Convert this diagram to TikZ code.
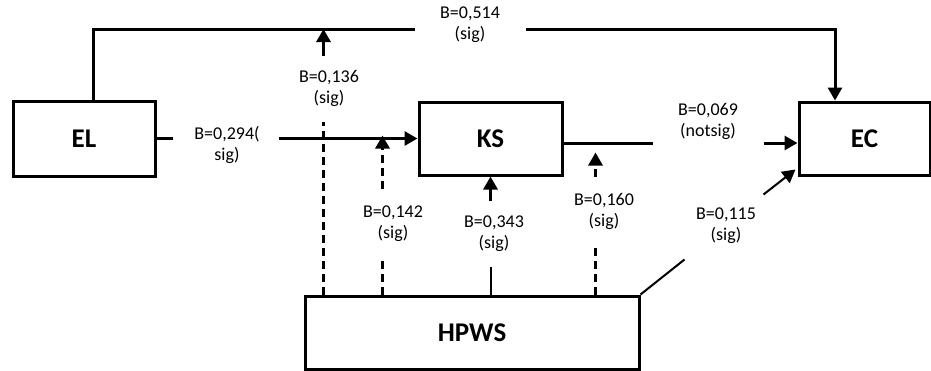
\documentclass[tikz,border=0pt]{standalone}
\usepackage{fontspec}
\setmainfont{Carlito}
\usetikzlibrary{arrows.meta}
\begin{document}
\begin{tikzpicture}[x=1pt, y=-1pt, line width=3pt, >={Triangle[length=13pt,width=14pt]},
      var/.style={draw, inner sep=0pt, font=\fontsize{27}{32}\selectfont\bfseries},
      coef/.style={align=center, inner sep=0pt, font=\fontsize{18}{21}\selectfont},
      med/.style={dash pattern=on 8pt off 5pt}]
    \useasboundingbox (0,0) rectangle (931,370);
    \node[var, minimum width=142pt, minimum height=75pt] (EL) at (84,138.5) {EL};
    \node[var, minimum width=143pt, minimum height=73pt] (KS) at (490.5,138.5) {KS};
    \node[var, minimum width=131pt, minimum height=73pt] (EC) at (864.5,138.5) {EC};
    \node[var, minimum width=334pt, minimum height=73pt] (HPWS) at (472,332.5) {HPWS};
    \node[coef] (l514) at (470,25) {B=0,514\\(sig)};
    \node[coef] (l136) at (329,88) {B=0,136\\(sig)};
    \node[coef] (l294) at (227,145) {B=0,294(\\sig)};
    \node[coef] (l142) at (393,224) {B=0,142\\(sig)};
    \node[coef] (l343) at (494,234) {B=0,343\\(sig)};
    \node[coef] (l160) at (604,211) {B=0,160\\(sig)};
    \node[coef] (l069) at (708,121) {B=0,069\\(notsig)};
    \node[coef] (l115) at (726,226) {B=0,115\\(sig)};
    \coordinate (topL) at (93,29);
    \coordinate (topR) at (835,29);
    \coordinate (h1) at ([xshift=20pt]HPWS.north west);
    \coordinate (h2) at ([xshift=79pt]HPWS.north west);
    \coordinate (h4) at ([xshift=292pt]HPWS.north west);
    \draw (EL.north -| topL) -- (topL) -- ([xshift=-24pt]l514.west |- topL);
    \draw[->] ([xshift=25pt]l514.east |- topL) -- (topR) -- (EC.north -| topR);
    \draw (EL.east) -- ([xshift=-20pt]l294.west |- EL.east);
    \draw[->] ([xshift=18pt]l294.east |- EL.east) -- (KS.west);
    \draw[med] (h1) -- ([yshift=-14pt]h1 |- l136.south);
    \draw[->] ([yshift=12pt]h1 |- l136.north) -- (h1 |- topL);
    \draw[med] (h2) -- ([yshift=-14pt]h2 |- l142.south);
    \draw[med, ->] ([yshift=16pt]h2 |- l142.north) -- ([yshift=3pt]h2 |- KS.west);
    \draw[line width=2pt] (KS.south |- HPWS.north) -- ([yshift=-14pt]KS.south |- l343.south);
    \draw[->] ([yshift=14pt]KS.south |- l343.north) -- (KS.south);
    \draw[med] (h4) -- ([yshift=-14pt]h4 |- l160.south);
    \draw[med, ->] ([yshift=14pt]h4 |- l160.north) -- ([yshift=-14pt]h4 |- KS.east);
    \draw ([yshift=-4.5pt]KS.east) -- ++(89,0);
    \draw[->] ([xshift=-34pt,yshift=-4.5pt]EC.west) -- ([yshift=-4.5pt]EC.west);
    \draw[line width=2pt] (HPWS.north east) -- ++(44,-35);
    \draw[line width=2pt, ->] ([shift={(-34,18)}]EC.south west) -- ([shift={(-2,-7)}]EC.south west);
  \end{tikzpicture}
\end{document}
